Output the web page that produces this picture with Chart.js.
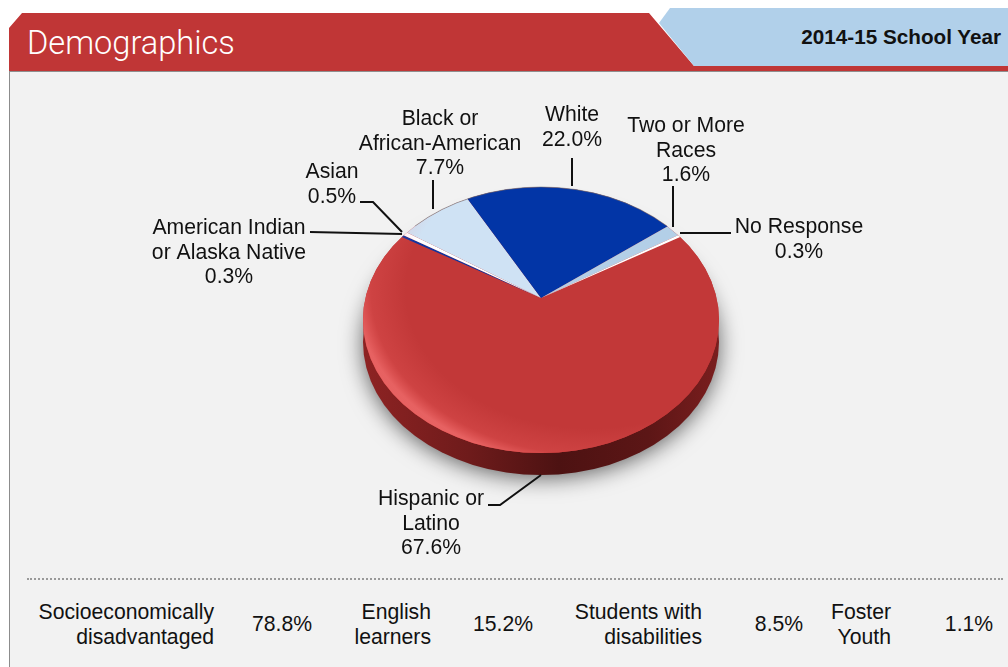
<!DOCTYPE html>
<html>
<head>
<meta charset="utf-8">
<title>Demographics</title>
<script src="https://cdn.jsdelivr.net/npm/chart.js@4"></script>
<style>
  html, body { margin: 0; padding: 0; background: #fff; }
  body { width: 1008px; height: 667px; position: relative; overflow: hidden; font-family: "Liberation Sans", Arial, sans-serif; color: #111; }
  .panel { position: absolute; left: 9px; top: 71px; right: 0; bottom: 0; background: #f2f2f2; border-left: 1px solid #8c8c8c; border-top: 1px solid #8f8f8f; }
  .tab-red { position: absolute; left: 9px; top: 13px; width: 999px; height: 58px; background: #c03636; clip-path: polygon(13px 0, 640px 0, 685px 53px, 999px 53px, 999px 58px, 0 58px, 0 15px); }
  .tab-blue { position: absolute; left: 650px; top: 8px; width: 358px; height: 58px; background: #b1d0ea; clip-path: polygon(20px 0, 358px 0, 358px 58px, 44px 58px, 9px 15px); }
  .title { position: absolute; left: 27px; top: 24px; font: 300 32.6px Roboto, sans-serif; color: #fff; }
  .year { position: absolute; right: 7px; top: 25px; font: bold 20.7px "Liberation Sans", sans-serif; color: #111; }
  .dots { position: absolute; left: 27px; right: 5px; top: 578px; border-top: 2px dotted #9a9a9a; }
  .stat { position: absolute; top: 600px; font-size: 21.2px; line-height: 24.7px; text-align: right; white-space: nowrap; }
  .pct { position: absolute; top: 612px; font-size: 21.2px; line-height: 24.7px; white-space: nowrap; transform: translateX(-50%); }
  canvas { position: absolute; left: 0; top: 0; }
</style>
</head>
<body>
<div class="panel"></div>
<div class="tab-red"></div>
<div class="tab-blue"></div>
<div class="title">Demographics</div>
<div class="year">2014-15 School Year</div>
<div class="dots"></div>
<div id="stats"></div>
<canvas id="pie" width="1008" height="667"></canvas>

<script>
// slices run clockwise from the right edge of the big red wedge
const categories = ["Hispanic or Latino", "American Indian or Alaska Native", "Asian", "Black or African-American", "White", "Two or More Races", "No Response"];
const shares = [67.6, 0.3, 0.5, 7.7, 22.0, 1.6, 0.3];
const sliceColors = ["#c23838", "#0f35a0", "#ffffff", "#cfe2f4", "#0235a6", "#b3cfe7", "#ffffff"];

const statNames = [["Socioeconomically", "disadvantaged"], ["English", "learners"], ["Students with", "disabilities"], ["Foster", "Youth"]];
const statShares = [78.8, 15.2, 8.5, 1.1];

// label text lines per slice, without the value line
const labelLines = [["Hispanic or", "Latino"], ["American Indian", "or Alaska Native"], ["Asian"], ["Black or", "African-American"], ["White"], ["Two or More", "Races"], ["No Response"]];
// block centre x, first baseline y
const labelPos = [[431, 505], [229, 234], [332, 178], [440, 125], [572, 121], [686, 132], [799, 233]];
const leaders = [
  [[488, 505], [500, 505], [541, 475]],
  [[310, 232], [402, 234]],
  [[360, 202], [373, 202], [402, 232]],
  [[433, 180], [433, 209]],
  [[572, 158], [572, 186]],
  [[673, 186], [673, 227]],
  [[680, 233], [731, 233]]
];
const statRight = [214, 431, 702, 891];
const statCentre = [282, 503, 779, 969];

// stat row under the pie
const stats = document.getElementById("stats");
statNames.forEach((lines, i) => {
  const name = document.createElement("div");
  name.className = "stat";
  name.style.right = (1008 - statRight[i]) + "px";
  name.innerHTML = lines.join("<br>");
  stats.appendChild(name);
  const pct = document.createElement("div");
  pct.className = "pct";
  pct.style.left = statCentre[i] + "px";
  pct.textContent = statShares[i].toFixed(1) + "%";
  stats.appendChild(pct);
});

// the disc: top face ellipse, tilt squash and rim depth
const disc = { cx: 541, cy: 320, rx: 178, ry: 133, depth: 22, squash: 0.71 };

function discPath(ctx, dy) {
  ctx.beginPath();
  ctx.ellipse(disc.cx, disc.cy + dy, disc.rx, disc.ry, 0, 0, Math.PI * 2);
}

const tiltedDisc = {
  id: "tiltedDisc",
  beforeDatasetsDraw(chart) {
    const ctx = chart.ctx;
    const arc = chart.getDatasetMeta(0).data[0];

    // drop shadow and rim
    ctx.save();
    ctx.shadowColor = "rgba(0,0,0,0.6)";
    ctx.shadowBlur = 22;
    ctx.shadowOffsetY = 3;
    const rim = ctx.createLinearGradient(disc.cx - disc.rx, 0, disc.cx + disc.rx, 0);
    rim.addColorStop(0, "#8e2323");
    rim.addColorStop(0.3, "#6e1b1b");
    rim.addColorStop(0.55, "#4d1212");
    rim.addColorStop(0.8, "#5c1616");
    rim.addColorStop(1, "#7a1e1e");
    ctx.fillStyle = rim;
    discPath(ctx, disc.depth);
    ctx.fill();
    ctx.restore();

    ctx.save();
    ctx.fillStyle = sliceColors[0];
    discPath(ctx, 0);
    ctx.fill();
    ctx.restore();

    // wedges share a point above the ellipse centre, cut to the ellipse
    ctx.save();
    discPath(ctx, 0);
    ctx.clip();
    ctx.translate(arc.x, arc.y);
    ctx.scale(1, disc.squash);
    ctx.translate(-arc.x, -arc.y);
  },
  afterDatasetsDraw(chart) {
    const ctx = chart.ctx;
    ctx.restore();

    // bevel light along the lower left edge
    ctx.save();
    discPath(ctx, 0);
    ctx.clip();
    ctx.translate(disc.cx, disc.cy);
    ctx.scale(1, disc.ry / disc.rx);
    const glow = ctx.createRadialGradient(50, -40, 185, 50, -40, 235);
    glow.addColorStop(0, "rgba(255,110,110,0)");
    glow.addColorStop(0.7, "rgba(255,110,110,0.2)");
    glow.addColorStop(1, "rgba(255,125,125,0.6)");
    ctx.fillStyle = glow;
    ctx.fillRect(-disc.rx, -disc.rx, disc.rx * 2, disc.rx * 2);
    ctx.restore();

    ctx.save();
    ctx.strokeStyle = "rgba(110,110,110,0.55)";
    ctx.lineWidth = 1;
    ctx.beginPath();
    ctx.ellipse(disc.cx, disc.cy, disc.rx, disc.ry, 0, Math.PI * 1.25, Math.PI * 1.75);
    ctx.stroke();
    ctx.restore();
  },
  afterDraw(chart) {
    const ctx = chart.ctx;
    ctx.save();
    ctx.strokeStyle = "#111";
    ctx.lineWidth = 2;
    leaders.forEach(points => {
      ctx.beginPath();
      points.forEach((p, i) => i ? ctx.lineTo(p[0], p[1]) : ctx.moveTo(p[0], p[1]));
      ctx.stroke();
    });
    ctx.fillStyle = "#111";
    ctx.font = '21.2px "Liberation Sans", sans-serif';
    ctx.textAlign = "center";
    labelLines.forEach((lines, i) => {
      const [x, y] = labelPos[i];
      const all = lines.concat(shares[i].toFixed(1) + "%");
      all.forEach((text, n) => ctx.fillText(text, x, y + n * 24.6));
    });
    ctx.restore();
  }
};

new Chart(document.getElementById("pie"), {
  type: "pie",
  data: {
    labels: categories,
    datasets: [{ data: shares, backgroundColor: sliceColors, borderWidth: 0 }]
  },
  options: {
    responsive: false,
    animation: false,
    rotation: 58.3,
    layout: { padding: { left: 82, right: 8, top: 0, bottom: 71 } },
    plugins: { legend: { display: false }, tooltip: { enabled: false } }
  },
  plugins: [tiltedDisc]
});
</script>
</body>
</html>
